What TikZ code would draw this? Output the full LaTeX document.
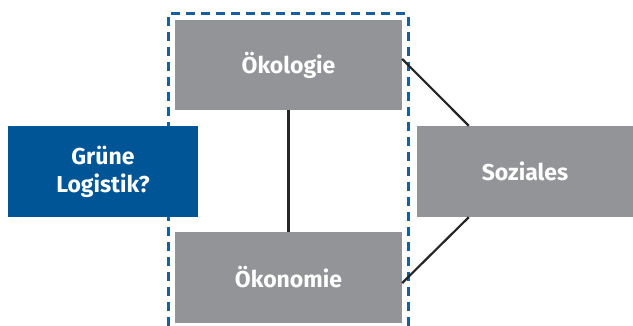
\documentclass[tikz,border=0pt]{standalone}
\usepackage{fontspec}
\setmainfont{Fira Sans}
\usetikzlibrary{positioning}

\definecolor{boxgray}{RGB}{147,148,152}
\definecolor{logiblue}{RGB}{0,85,150}
\definecolor{dashblue}{RGB}{25,95,160}

\tikzset{
    pillar/.style={fill=boxgray, text=white, inner sep=0pt,
        font=\fontsize{23}{28}\selectfont\bfseries, align=center},
    link/.style={draw=black!85, line width=2.2pt},
}

\begin{document}
\begin{tikzpicture}[x=1pt, y=-1pt]
    \useasboundingbox (0, 0) rectangle (633, 326);
    % dashed frame round the two left pillars
    \draw[dashblue, line width=3pt, dash pattern=on 9pt off 6pt]
        (168, 326) |- (408, 14) -- (408, 326);
    \node (oekologie) [pillar, minimum width=227pt, minimum height=90pt]
        at (288.5, 65) {Ökologie};
    \node (oekonomie) [pillar, minimum width=227pt, minimum height=91pt]
        at (288.5, 277.5) {Ökonomie};
    \node (soziales) [pillar, minimum width=216pt, minimum height=91pt]
        at (525, 171.5) {Soziales};
    \node (gruene) [pillar, fill=logiblue, minimum width=190pt, minimum height=91pt]
        at (103, 171.5) {Grüne\\Logistik?};
    \draw[link] (oekologie) -- (oekonomie);
    \draw[link] ([yshift=6pt]oekologie.east) -- ([xshift=52pt]soziales.north west);
    \draw[link] ([yshift=-5.5pt]oekonomie.east) -- ([xshift=52pt]soziales.south west);
\end{tikzpicture}
\end{document}
